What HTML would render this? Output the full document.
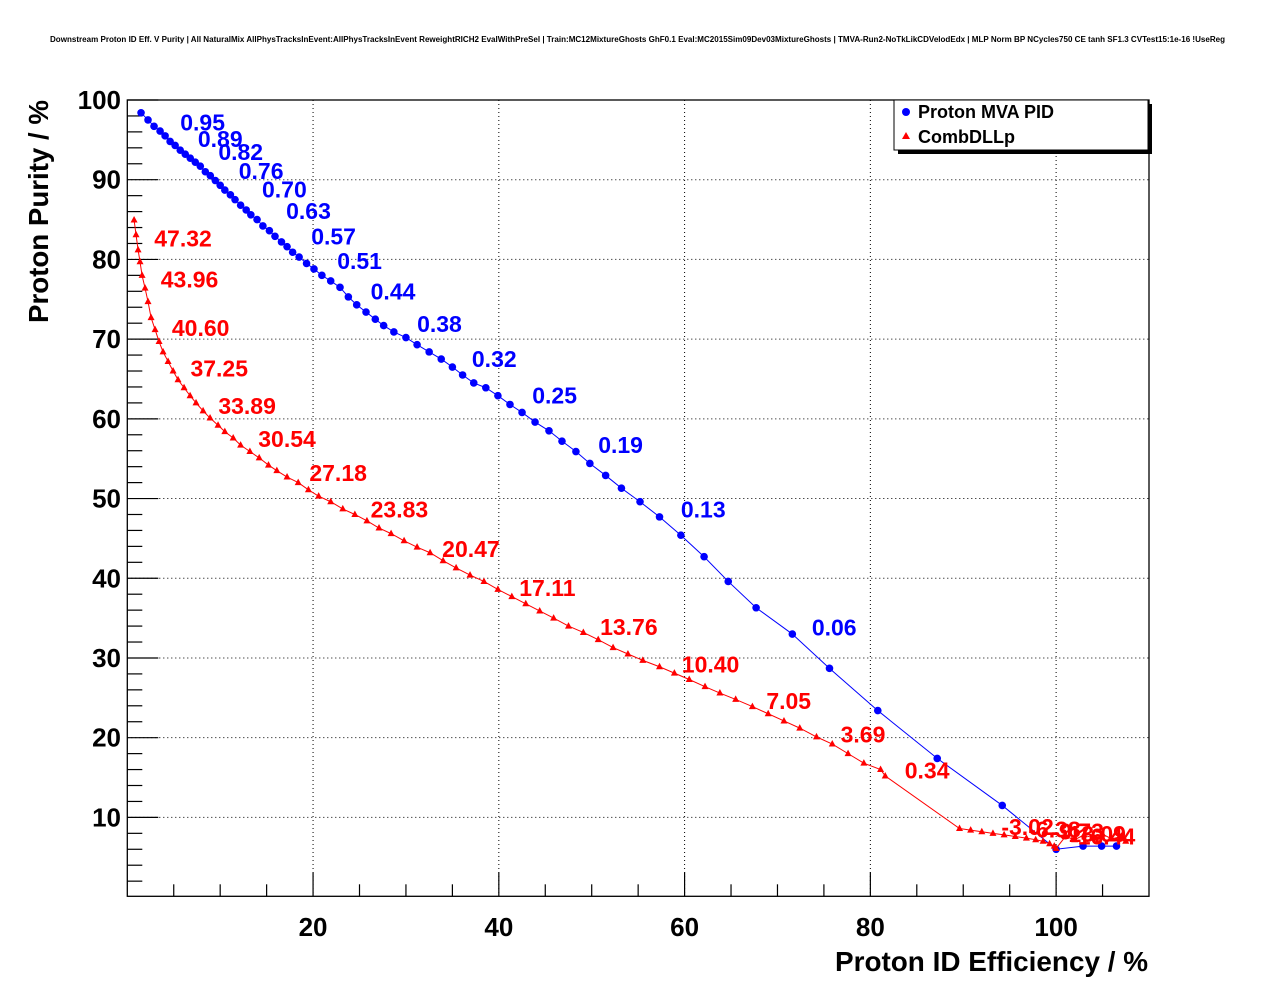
<!DOCTYPE html>
<html><head><meta charset="utf-8"><style>
body{margin:0;background:#fff;}
svg{display:block;font-family:"Liberation Sans",Arial,sans-serif;font-weight:bold;}
</style></head><body>
<svg id="c" width="1276" height="996" viewBox="0 0 1276 996" xmlns="http://www.w3.org/2000/svg">
<rect width="1276" height="996" fill="#fff"/>
<text x="50" y="42" font-size="8" textLength="1175" lengthAdjust="spacingAndGlyphs">Downstream Proton ID Eff. V Purity | All NaturalMix AllPhysTracksInEvent:AllPhysTracksInEvent ReweightRICH2 EvalWithPreSel | Train:MC12MixtureGhosts GhF0.1 Eval:MC2015Sim09Dev03MixtureGhosts | TMVA-Run2-NoTkLikCDVelodEdx | MLP Norm BP NCycles750 CE tanh SF1.3 CVTest15:1e-16 !UseReg</text>
<g id="grid"></g>
<g id="axes"></g>
<g id="series"></g>
<g id="labels"></g>
<text x="835" y="971" font-size="28" textLength="313" lengthAdjust="spacingAndGlyphs">Proton ID Efficiency / %</text>
<text transform="translate(48,323) rotate(-90)" font-size="28" textLength="223" lengthAdjust="spacingAndGlyphs">Proton Purity / %</text>
<g>
<rect x="898" y="104" width="254" height="50" fill="#000"/>
<rect x="894" y="100" width="254" height="50" fill="#fff" stroke="#000" stroke-width="1"/>
<circle cx="906" cy="112" r="4" fill="#0000ff"/>
<text x="918" y="118" font-size="18">Proton MVA PID</text>
<polygon points="906,132 902,139 910,139" fill="#ff0000"/>
<text x="918" y="143" font-size="18">CombDLLp</text>
</g>
</svg>
<script>
const xTicks=[20,40,60,80,100];
const yTicks=[10,20,30,40,50,60,70,80,90,100];
const mvaEff=[1.48,2.23,2.88,3.53,4.07,4.61,5.15,5.70,6.24,6.78,7.32,7.86,8.40,8.94,9.48,10.0,10.5,11.1,11.6,12.2,12.8,13.3,13.97,14.6,15.3,15.9,16.6,17.2,17.8,18.5,19.3,20.1,20.95,21.9,22.9,23.8,24.7,25.7,26.7,27.6,28.7,30.0,31.2,32.5,33.8,35.0,36.1,37.3,38.6,39.9,41.2,42.5,43.9,45.4,46.8,48.3,49.8,51.5,53.2,55.2,57.3,59.6,62.1,64.7,67.7,71.6,75.6,80.8,87.2,94.2,100.0,102.9,104.9,106.5];
const mvaPur=[98.4,97.5,96.7,96.1,95.5,94.8,94.3,93.7,93.2,92.7,92.2,91.7,91.0,90.5,89.9,89.3,88.7,88.1,87.5,86.8,86.2,85.6,85.0,84.2,83.6,82.9,82.2,81.6,80.9,80.3,79.5,78.8,78.0,77.3,76.5,75.3,74.3,73.4,72.5,71.7,70.9,70.2,69.3,68.4,67.5,66.5,65.5,64.5,63.9,62.9,61.8,60.8,59.6,58.5,57.2,55.9,54.4,52.9,51.3,49.6,47.7,45.4,42.7,39.6,36.3,33.0,28.7,23.4,17.4,11.5,6.0,6.4,6.4,6.4];
const dllEff=[0.73,0.94,1.16,1.37,1.59,1.91,2.23,2.56,2.99,3.42,3.85,4.39,4.93,5.46,6.11,6.76,7.40,8.16,8.91,9.77,10.5,11.4,12.2,13.2,14.2,15.2,16.1,17.2,18.4,19.5,20.6,21.9,23.2,24.5,25.8,27.1,28.4,29.8,31.2,32.6,34.0,35.4,36.9,38.4,39.9,41.4,42.9,44.4,45.9,47.5,49.1,50.7,52.3,53.9,55.5,57.3,58.9,60.5,62.2,63.8,65.5,67.3,69.0,70.7,72.4,74.2,75.9,77.6,79.3,81.1,81.6,89.6,90.8,92.0,93.2,94.4,95.6,96.8,97.8,98.6,99.3,99.8,100.0,101.0,102.0,103.0,104.0,105.0,106.0,107.0,107.5];
const dllPur=[84.95,83.1,81.2,79.7,78.0,76.4,74.7,72.7,71.2,69.7,68.4,67.2,66.0,64.9,63.9,62.9,62.0,61.0,60.1,59.2,58.4,57.6,56.7,55.9,55.1,54.2,53.5,52.7,52.0,51.1,50.3,49.6,48.7,48.0,47.2,46.3,45.6,44.7,43.9,43.2,42.2,41.3,40.4,39.6,38.6,37.7,36.8,35.9,35.0,34.0,33.2,32.3,31.3,30.5,29.7,28.9,28.1,27.3,26.4,25.6,24.8,23.9,23.0,22.1,21.2,20.1,19.2,18.0,16.8,16.0,15.2,8.6,8.4,8.2,8.0,7.8,7.6,7.4,7.2,7.0,6.7,6.4,6.1,7.6,7.2,7.8,7.4,7.9,7.3,7.6,7.0];
const mvaLabelText=["0.95","0.89","0.82","0.76","0.70","0.63","0.57","0.51","0.44","0.38","0.32","0.25","0.19","0.13","0.06"];
const mvaLabelX=[5.7,7.6,9.8,12.0,14.5,17.1,19.8,22.6,26.2,31.2,37.1,43.6,50.7,59.6,73.7];
const mvaLabelY=[97.2,95.1,93.5,91.1,88.8,86.1,82.9,79.8,76.0,71.9,67.5,62.9,56.7,48.6,33.8];
const dllLabelText=["47.32","43.96","40.60","37.25","33.89","30.54","27.18","23.83","20.47","17.11","13.76","10.40","7.05","3.69","0.34","-3.02","-6.38","-9.73","-13.09","-16.44"];
const dllLabelX=[2.9,3.6,4.8,6.8,9.8,14.1,19.6,26.2,33.9,42.2,50.9,59.7,68.8,76.8,83.7,94.1,97.0,99.5,100.5,101.5];
const dllLabelY=[82.6,77.5,71.4,66.3,61.6,57.5,53.2,48.6,43.7,38.8,33.9,29.2,24.6,20.4,15.9,8.8,8.5,8.2,7.9,7.6];

const L=127.3,R=1149,T=100,B=896.3,XMIN=0,XMAX=110,YMIN=0.1,YMAX=100;
const sx=v=>L+(v-XMIN)/(XMAX-XMIN)*(R-L);
const sy=v=>B-(v-YMIN)/(YMAX-YMIN)*(B-T);
const NS="http://www.w3.org/2000/svg";
function mk(tag,attrs,parent){const e=document.createElementNS(NS,tag);for(const k in attrs)e.setAttribute(k,attrs[k]);parent.appendChild(e);return e;}
const grid=document.getElementById('grid'),axes=document.getElementById('axes'),series=document.getElementById('series'),labels=document.getElementById('labels');
xTicks.forEach(v=>{const g=mk('line',{x1:sx(v),x2:sx(v),y1:T,y2:B,stroke:'#000','stroke-width':1,'stroke-dasharray':'1,3'},grid);

});
yTicks.forEach(v=>{const g=mk('line',{x1:L,x2:R,y1:sy(v),y2:sy(v),stroke:'#000','stroke-width':1,'stroke-dasharray':'1,3'},grid);

});
const fr=mk('rect',{x:L,y:T,width:R-L,height:B-T,fill:'none',stroke:'#000','stroke-width':1.3},axes);


for(let v=5;v<XMAX;v+=5){const major=v%20===0;mk('line',{x1:sx(v),x2:sx(v),y1:B,y2:B-(major?24:12),stroke:'#000','stroke-width':1.2},axes);}
xTicks.forEach(v=>{const t=mk('text',{x:sx(v),y:936,'font-size':26,'text-anchor':'middle'},axes);t.textContent=v;

});
for(let v=2;v<=100;v+=2){const major=v%10===0;mk('line',{x1:L,x2:L+(major?31:15),y1:sy(v),y2:sy(v),stroke:'#000','stroke-width':1.2},axes);}
yTicks.forEach(v=>{const t=mk('text',{x:121,y:sy(v)+9,'font-size':26,'text-anchor':'end'},axes);t.textContent=v;

});
const mvaLine=mk('polyline',{points:mvaEff.map((e,i)=>sx(e)+','+sy(mvaPur[i])).join(' '),fill:'none',stroke:'#0000ff','stroke-width':1},series);


mvaEff.forEach((e,i)=>{const c=mk('circle',{cx:sx(e),cy:sy(mvaPur[i]),r:3.8,fill:'#0000ff'},series);

});
const dllLine=mk('polyline',{points:dllEff.map((e,i)=>sx(e)+','+sy(dllPur[i])).join(' '),fill:'none',stroke:'#ff0000','stroke-width':1},series);


dllEff.forEach((e,i)=>{const x=sx(e),y=sy(dllPur[i]);const p=mk('polygon',{points:`${x},${y-4} ${x-3.5},${y+2.5} ${x+3.5},${y+2.5}`,fill:'#ff0000'},series);

});
mvaLabelText.forEach((s,i)=>{const t=mk('text',{x:sx(mvaLabelX[i]),y:sy(mvaLabelY[i])+8,'font-size':23,fill:'#0000ff'},labels);t.textContent=s;

});
dllLabelText.forEach((s,i)=>{const t=mk('text',{x:sx(dllLabelX[i]),y:sy(dllLabelY[i])+8,'font-size':23,fill:'#ff0000'},labels);t.textContent=s;

});
</script>
</body></html>
